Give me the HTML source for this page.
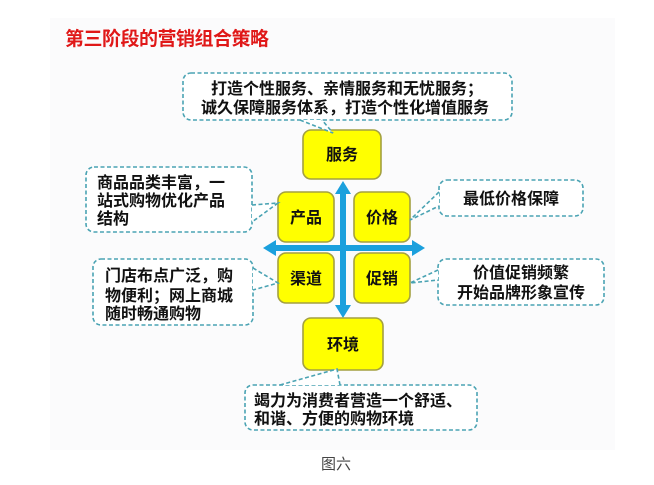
<!DOCTYPE html>
<html><head><meta charset="utf-8"><style>
html,body{margin:0;padding:0;background:#fff;}
svg{display:block;}
text{font-family:"Liberation Sans","Noto Sans CJK SC",sans-serif;}
.t{font-size:16px;fill:#111;font-weight:bold;}
.b{font-size:16px;fill:#111;font-weight:bold;text-anchor:middle;}
.c{fill:#fff;stroke:#4aa3b3;stroke-width:1.6;stroke-dasharray:4 2.5;}
.y{fill:#ffff00;stroke:#a3a040;stroke-width:1.6;}
</style></head><body>
<svg width="654" height="485" viewBox="0 0 654 485" xmlns="http://www.w3.org/2000/svg">
<rect x="50" y="18" width="565" height="432" fill="#fbfbfc"/>
<text x="65" y="45" style="font-size:19px;font-weight:bold;fill:#e01818;letter-spacing:-0.5px">第三阶段的营销组合策略</text>

<g fill="#1ba0dd">
<rect x="340" y="192" width="6" height="116"/>
<polygon points="343,181 335,194 351,194"/>
<polygon points="343,318 335,305 351,305"/>
<rect x="274" y="245" width="140" height="6"/>
<polygon points="263,248 276,240 276,256"/>
<polygon points="425,248 412,240 412,256"/>
</g>

<rect class="y" x="303" y="130" width="78" height="49" rx="8"/>
<rect class="y" x="278" y="192" width="56" height="50" rx="8"/>
<rect class="y" x="354" y="192" width="56" height="50" rx="8"/>
<rect class="y" x="278" y="253" width="56" height="50" rx="8"/>
<rect class="y" x="354" y="253" width="56" height="50" rx="8"/>
<rect class="y" x="303" y="318" width="80" height="52" rx="8"/>
<text class="b" x="342" y="160">服务</text>
<text class="b" x="306" y="223">产品</text>
<text class="b" x="382" y="223">价格</text>
<text class="b" x="306" y="284">渠道</text>
<text class="b" x="382" y="284">促销</text>
<text class="b" x="343" y="350">环境</text>

<rect class="c" x="183" y="73" width="329" height="47" rx="8"/>
<polyline class="c" fill="none" points="300,120 333,133 322,120"/>
<text class="b" x="347" y="94">打造个性服务、亲情服务和无忧服务；</text>
<text class="b" x="345" y="113">诚久保障服务体系，打造个性化增值服务</text>

<rect class="c" x="86" y="167" width="166" height="65" rx="8"/>
<polyline class="c" fill="none" points="252,205 278,203 252,222"/>
<text class="t" x="97" y="188">商品品类丰富，一</text>
<text class="t" x="97" y="206">站式购物优化产品</text>
<text class="t" x="97" y="224">结构</text>

<rect class="c" x="439" y="180" width="144" height="36" rx="8"/>
<polyline class="c" fill="none" points="439,192 410,220 439,206"/>
<text class="b" x="511" y="204">最低价格保障</text>

<rect class="c" x="93" y="259" width="160" height="66" rx="8"/>
<polyline class="c" fill="none" points="253,268 278,283 253,290"/>
<text class="t" x="105" y="281">门店布点广泛，购</text>
<text class="t" x="105" y="301">物便利；网上商城</text>
<text class="t" x="105" y="319">随时畅通购物</text>

<rect class="c" x="438" y="259" width="166" height="46" rx="8"/>
<polyline class="c" fill="none" points="438,270 410,283 438,280"/>
<text class="b" x="521" y="278">价值促销频繁</text>
<text class="b" x="521" y="298">开始品牌形象宣传</text>

<rect class="c" x="245" y="385" width="232" height="45" rx="8"/>
<polyline class="c" fill="none" points="280,385 337,369 340,385"/>
<text class="t" x="254" y="406">竭力为消费者营造一个舒适、</text>
<text class="t" x="254" y="424">和谐、方便的购物环境</text>

<text x="336" y="469" style="font-size:15px;fill:#444;text-anchor:middle">图六</text>
</svg>
</body></html>
